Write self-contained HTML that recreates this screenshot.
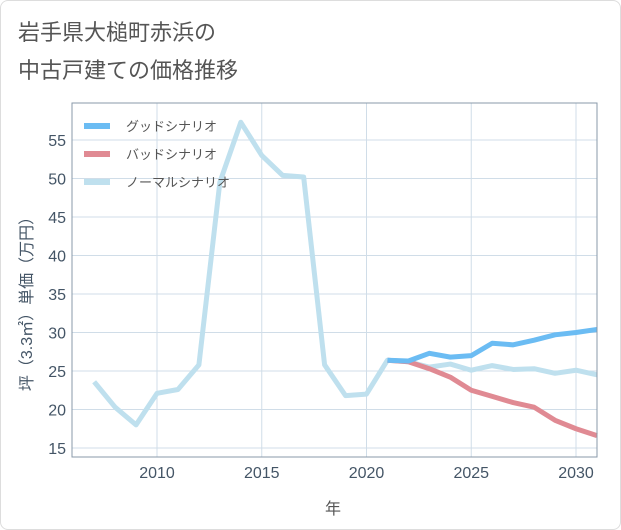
<!DOCTYPE html>
<html><head><meta charset="utf-8"><style>
body{margin:0;background:#fff;font-family:"Liberation Sans","Noto Sans CJK JP",sans-serif;}
#card{position:absolute;left:0;top:0;width:619px;height:528px;border:1px solid #ddd;border-radius:8px;background:#fff;}
</style></head><body>
<div id="card">
<svg id="chart" width="621" height="530" style="position:absolute;left:-1px;top:-1px">
<text x="18" y="40" font-size="22" fill="#555">岩手県大槌町赤浜の</text>
<text x="18" y="78" font-size="22" fill="#555">中古戸建ての価格推移</text>
<g id="grid"></g><g id="series"></g><g id="axes"></g>
<text x="333" y="514" font-size="16" fill="#555" text-anchor="middle">年</text>
<text transform="translate(32,300) rotate(-90)" font-size="16" fill="#445566" text-anchor="middle">坪（3.3㎡）単価（万円）</text>
<g id="legend"></g>
</svg></div>
<script>
const years=[2007,2008,2009,2010,2011,2012,2013,2014,2015,2016,2017,2018,2019,2020,2021,2022,2023,2024,2025,2026,2027,2028,2029,2030,2031];
const normal=[23.6,20.3,18.0,22.1,22.6,25.8,49.5,57.3,53.0,50.4,50.2,25.8,21.8,22.0,26.4,26.2,25.5,25.9,25.1,25.7,25.2,25.3,24.7,25.1,24.5];
const futureYears=[2021,2022,2023,2024,2025,2026,2027,2028,2029,2030,2031];
const good=[26.4,26.3,27.3,26.8,27.0,28.6,28.4,29.0,29.7,30.0,30.4];
const bad=[26.4,26.2,25.3,24.2,22.5,21.7,20.9,20.3,18.6,17.5,16.6];
const xTicks=[2010,2015,2020,2025,2030];
const yTicks=[15,20,25,30,35,40,45,50,55];
const L=72,R=597,T=103,B=457;
const x=v=>157+(v-2010)*(576-157)/20;
const y=v=>448-(v-15)*(448-140)/40;
const NS='http://www.w3.org/2000/svg';
function mk(tag,attrs,parent){const e=document.createElementNS(NS,tag);for(const k in attrs)e.setAttribute(k,attrs[k]);document.getElementById(parent).appendChild(e);return e;}
xTicks.forEach(t=>{const l=mk('line',{x1:x(t),x2:x(t),y1:T,y2:B,stroke:'#d0dde8'},'grid');
const tx=mk('text',{x:x(t),y:478,'font-size':16,fill:'#445566','text-anchor':'middle'},'axes');tx.textContent=t;});
yTicks.forEach(t=>{const l=mk('line',{x1:L,x2:R,y1:y(t),y2:y(t),stroke:'#d0dde8'},'grid');
const tx=mk('text',{x:66,y:y(t)+6,'font-size':16,fill:'#445566','text-anchor':'end'},'axes');tx.textContent=t;});
const fr=mk('rect',{x:L,y:T,width:R-L,height:B-T,fill:'none',stroke:'#8899aa'},'axes');
function line(xs,vs,c,n){const p=mk('polyline',{points:xs.map((v,i)=>x(v)+','+y(vs[i])).join(' '),fill:'none',stroke:c,'stroke-width':5,'stroke-linejoin':'round'},'series');}
line(years,normal,'#bfe0ee','normal-line');
line(futureYears,bad,'#e08a93','bad-line');
line(futureYears,good,'#6bbcf3','good-line');
[['グッドシナリオ','#6bbcf3'],['バッドシナリオ','#e08a93'],['ノーマルシナリオ','#bfe0ee']].forEach((d,i)=>{const yy=126+i*28;
const l=mk('line',{x1:84,x2:110,y1:yy,y2:yy,stroke:d[1],'stroke-width':6},'legend');
const t=mk('text',{x:126,y:yy+5,'font-size':13,fill:'#555'},'legend');t.textContent=d[0];});
</script></body></html>
